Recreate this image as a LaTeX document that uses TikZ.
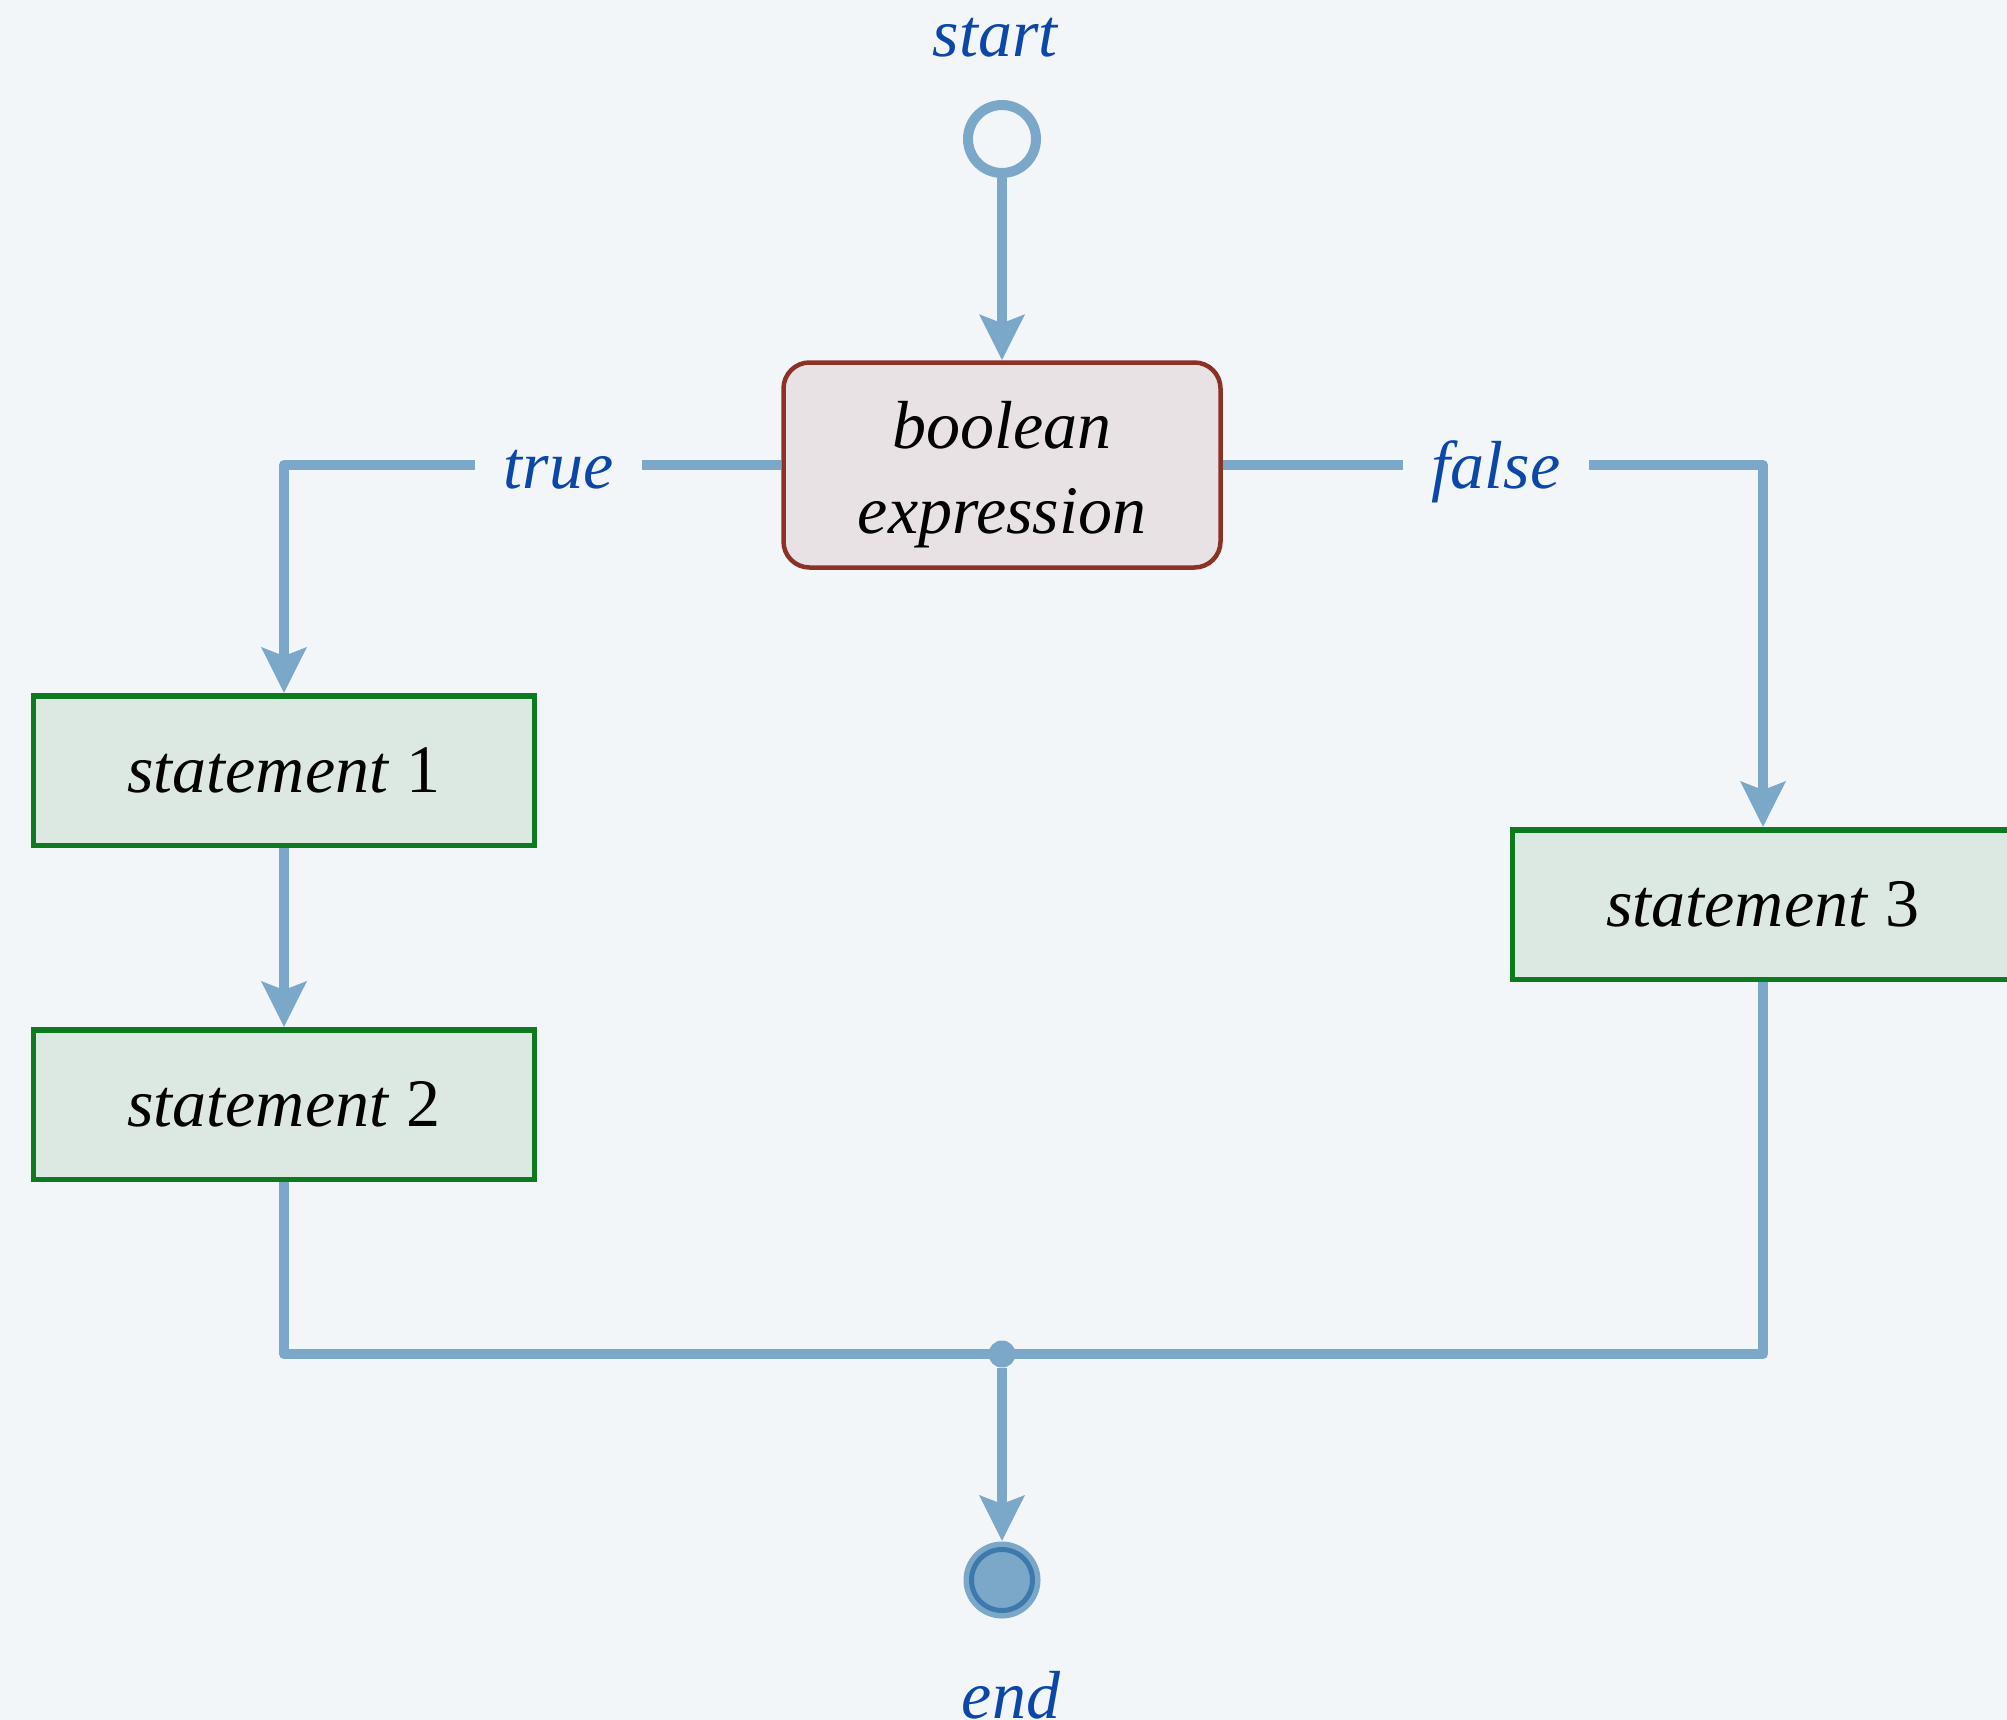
\documentclass[tikz,border=0pt]{standalone}
\usepackage{fontspec}
\setmainfont{Liberation Serif}
\usepackage{tikz}
\usetikzlibrary{arrows.meta, positioning}

\definecolor{bgcol}{HTML}{F3F6F9}
\definecolor{flowcol}{HTML}{7BA7C9}
\definecolor{lblcol}{HTML}{0B47A8}
\definecolor{condfill}{HTML}{E8E2E4}
\definecolor{conddraw}{HTML}{8B3126}
\definecolor{stmtfill}{HTML}{DCE9E2}
\definecolor{stmtdraw}{HTML}{0E7A1F}
\definecolor{endring}{HTML}{3D79AD}

\begin{document}
\begin{tikzpicture}[x=1pt, y=-1pt,
					every node/.style={font=\fontsize{68}{85}\selectfont\itshape},
					flow/.style={draw=flowcol, line width=10pt, line join=round},
					arr/.style={-{Stealth[length=45pt, width=44pt, inset=8pt]}},
					lbl/.style={text=lblcol, fill=bgcol, inner xsep=29pt, text height=46pt, text depth=0pt},
					cond/.style={draw=conddraw, fill=condfill, line width=4.5pt, rounded corners=26pt,
						minimum width=437pt, minimum height=205pt, align=center},
					stmt/.style={draw=stmtdraw, fill=stmtfill, line width=5.5pt,
						minimum width=501pt, minimum height=149.5pt},
					node distance=179pt]
				\fill[bgcol] (0,0) rectangle (2007,1720);
				\useasboundingbox (0,0) rectangle (2007,1720);
				% start and decision
				\node[flow, circle, fill=bgcol, minimum size=68pt, inner sep=0pt] (start) at (1002,139) {};
				\node[lbl, fill=none, anchor=base] (startlbl) at (995,57) {start};
				\node[cond]            (bool) at (1002,465) {\rule{0pt}{66pt}boolean\\expression};
				% statements
				\node[stmt]            (s1) at (284,770.5)  {statement \textup{1}};
				\node[stmt, below =of s1] (s2)              {statement \textup{2}};
				\node[stmt]            (s3) at (1763,904.5) {statement \textup{3}};
				% merge and end
				\node[circle, fill=flowcol, minimum size=27pt, inner sep=0pt] (join) at (1002,1354) {};
				\node[circle, draw=endring, fill=flowcol, line width=5pt, minimum size=61pt, inner sep=0pt,
					outer sep=8.5pt, preaction={draw=flowcol, line width=16pt}] (end) at (1002,1580) {};
				\node[lbl, fill=none, anchor=base] (endlbl) at (1011,1718) {end};
				\foreach \from/\to in {start/bool, s1/s2, join/end}
					\draw[flow, arr] (\from) -- (\to);
				\draw[flow, arr] (bool.west) -| node[lbl, pos=0.224] {true} (s1.north);
				\draw[flow, arr] (bool.east) -| node[lbl, pos=0.253] {false} (s3.north);
				\draw[flow] (s2.south) |- (join.center) -| (s3.south);
			\end{tikzpicture}
\end{document}
